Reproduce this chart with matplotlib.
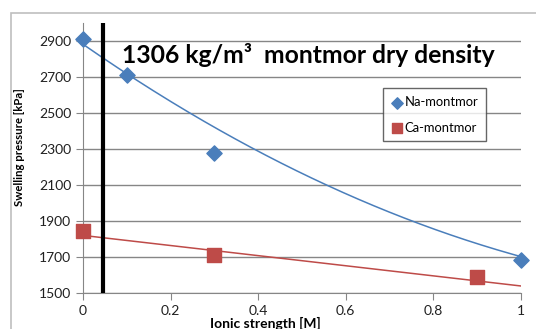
import numpy as np
import matplotlib.pyplot as plt
from matplotlib.patches import Rectangle

plt.rcParams['font.family'] = ['Lato', 'DejaVu Sans']

na_x = np.array([0, 0.1, 0.3, 1.0])
na_y = np.array([2910, 2710, 2278, 1685])
ca_x = np.array([0, 0.3, 0.9])
ca_y = np.array([1845, 1710, 1590])
# trendline coefficients as drawn in the source (highest power first)
na_trend = [510, -1690, 2882]
ca_trend = [-281, 1820]
xticks = [0, 0.2, 0.4, 0.6, 0.8, 1]
xticklabels = ['0', '0.2', '0.4', '0.6', '0.8', '1']
yticks = [1500, 1700, 1900, 2100, 2300, 2500, 2700, 2900]
marker_x = 0.046

blue = '#4A7EBB'
red = '#BE4B48'

fig = plt.figure(figsize=(5.36, 3.29), dpi=100)
ax = fig.add_axes([0.1549, 0.1094, 0.8171, 0.8206])

# outer chart border
fig.patches.append(Rectangle((11 / 536, -0.05), 1.0, 1 - 13 / 329 + 0.05,
                             transform=fig.transFigure, fill=False,
                             edgecolor='#BFBFBF', lw=1.2))

xx = np.linspace(0, 1, 200)
ax.plot(xx, np.polyval(na_trend, xx), color=blue, lw=1.1, zorder=3)
ax.plot(xx, np.polyval(ca_trend, xx), color=red, lw=1.1, zorder=3)

ax.scatter(na_x, na_y, marker='D', s=60, color=blue, zorder=4,
           label='Na-montmor', clip_on=False)
ax.scatter(ca_x, ca_y, marker='s', s=95, color=red, zorder=4,
           label='Ca-montmor', clip_on=False)

ax.axvline(marker_x, color='black', lw=3, zorder=5)

ax.set_xlim(0, 1)
ax.set_ylim(1500, 3000)
ax.set_xticks(xticks)
ax.set_xticklabels(xticklabels)
ax.set_yticks(yticks)
ax.yaxis.grid(True, color='#868686', lw=1)
ax.set_axisbelow(True)
for s in ['top', 'right']:
    ax.spines[s].set_visible(False)
for s in ['left', 'bottom']:
    ax.spines[s].set_color('#868686')
ax.tick_params(axis='both', colors='#868686', labelcolor='#202020',
               labelsize=10, length=5, direction='out')

ax.set_ylabel('Swelling pressure [kPa]', fontsize=8.2, fontweight='bold')
ax.yaxis.set_label_coords(-0.133, 0.54)
ax.set_xlabel('Ionic strength [M]', fontsize=10, fontweight='bold')
ax.xaxis.set_label_coords(0.417, -0.09)
ax.xaxis.label.set_va('top')

ax.text(0.089, 2780, '1306 kg/m\u00b3  montmor dry density', fontsize=17.8,
        fontweight='bold', va='baseline', zorder=6)

leg = ax.legend(loc='upper left', bbox_to_anchor=(0.685, 0.759),
                fontsize=9.4, frameon=True, fancybox=False,
                edgecolor='#404040', handletextpad=0.15, borderpad=0.6,
                labelspacing=1.05, handlelength=0.9, markerscale=0.75,
                borderaxespad=0)
leg.get_frame().set_linewidth(1)

fig.savefig('out.png', dpi=100)
